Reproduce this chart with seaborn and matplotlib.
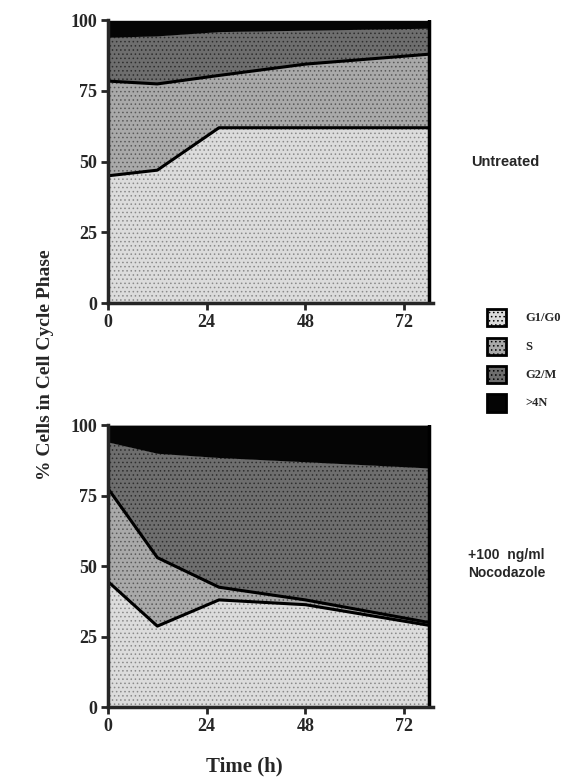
"""
Cell cycle phase distribution over time, untreated vs nocodazole.
"""

import numpy as np
import pandas as pd
import seaborn as sns
import matplotlib.pyplot as plt
from matplotlib.patches import Rectangle

# time points (h)
times = [0, 12, 27, 48, 78]

# cumulative upper boundaries (%) of each phase, untreated
untreated_g1 = [45, 47, 62, 62, 62]
untreated_s = [78.5, 77.5, 80.5, 84.5, 88]
untreated_g2m = [94, 94.5, 96, 96.5, 97.2]

# cumulative upper boundaries (%) of each phase, +100 ng/ml nocodazole
noco_g1 = [44.5, 28.7, 38, 36.3, 29]
noco_s = [77.5, 53, 42.5, 38, 30]
noco_g2m = [94, 90, 88.5, 87, 84.8]

phases = ["G1/G0", "S", "G2/M", ">4N"]
colors = ["#dcdcdc", "#a9a9a9", "#6e6e6e", "#050505"]
hatch_col = ["#8a8a8a", "#5a5a5a", "#2e2e2e", "#000000"]

x_ticks = [0, 24, 48, 72]
y_ticks = [0, 25, 50, 75, 100]

SERIF = "Liberation Serif"
SANS = "Liberation Sans"


def draw_panel(ax, g1, s, g2m):
    """empilement des phases pour un traitement"""
    df = pd.DataFrame({"t": times, "g1": g1, "s": s, "g2m": g2m})
    df["top"] = 100
    layers = [(0, "g1"), ("g1", "s"), ("s", "g2m"), ("g2m", "top")]
    for i, (lo, hi) in enumerate(layers):
        low = 0 if lo == 0 else df[lo]
        ax.fill_between(df["t"], low, df[hi], facecolor=colors[i],
                        edgecolor=hatch_col[i], hatch="...." if i < 3 else None,
                        linewidth=0)
    sns.lineplot(data=df, x="t", y="g1", ax=ax, color="black", lw=2.2)
    sns.lineplot(data=df, x="t", y="s", ax=ax, color="black", lw=2.2)
    ax.axvline(times[-1], color="black", lw=2.5)

    ax.set_xlim(0, 79)
    ax.set_ylim(0, 100)
    ax.set_xticks(x_ticks)
    ax.set_yticks(y_ticks)
    ax.set_xlabel("")
    ax.set_ylabel("")
    for lab in ax.get_xticklabels() + ax.get_yticklabels():
        lab.set_fontfamily(SERIF)
        lab.set_fontweight("bold")
        lab.set_fontsize(13)
    ax.tick_params(direction="out", length=5, width=2, pad=3)
    for sp in ["left", "bottom"]:
        ax.spines[sp].set_linewidth(2.5)
    ax.spines["top"].set_visible(False)
    ax.spines["right"].set_visible(False)


def main():
    sns.set_style("ticks")
    plt.rcParams["hatch.linewidth"] = 0.6
    fig = plt.figure(figsize=(5.82, 7.81), dpi=100)

    ax1 = fig.add_axes([0.1856, 0.612, 0.558, 0.362])
    ax2 = fig.add_axes([0.1856, 0.0947, 0.558, 0.361])

    draw_panel(ax1, untreated_g1, untreated_s, untreated_g2m)
    draw_panel(ax2, noco_g1, noco_s, noco_g2m)

    # étiquettes de traitement
    fig.text(0.81, 0.792, "Untreated", fontfamily=SANS, fontweight="bold",
             fontsize=10.5, va="center")
    fig.text(0.804, 0.278, "+100  ng/ml\nNocodazole", fontfamily=SANS,
             fontweight="bold", fontsize=10, va="center", linespacing=1.3)

    # légende manuelle
    leg_y = [0.593, 0.556, 0.520, 0.484]
    for i, name in enumerate(phases):
        fig.patches.append(Rectangle((0.837, leg_y[i] - 0.011), 0.033, 0.022,
                                     transform=fig.transFigure,
                                     facecolor=colors[i], edgecolor="black",
                                     lw=2, hatch="...." if i < 3 else None))
        fig.text(0.902, leg_y[i], name, fontfamily=SERIF, fontsize=9,
                 fontweight="bold", va="center")

    fig.text(0.078, 0.533, "% Cells in Cell Cycle Phase", rotation=90,
             fontfamily=SERIF, fontweight="bold", fontsize=14,
             ha="center", va="center")
    fig.text(0.42, 0.012, "Time (h)", fontfamily=SERIF, fontweight="bold",
             fontsize=15, ha="center")

    fig.savefig("out.png", dpi=100)


if __name__ == "__main__":
    main()
